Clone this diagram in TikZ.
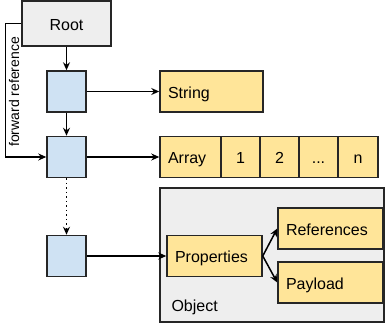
\documentclass[tikz,border=0pt]{standalone}
\usepackage{fontspec}
\setmainfont{Liberation Sans}
\usetikzlibrary{arrows.meta,positioning}
\definecolor{slotblue}{HTML}{CFE2F3}
\definecolor{itemyellow}{HTML}{FFE599}
\definecolor{panelgray}{HTML}{EEEEEE}

\begin{document}
\begin{tikzpicture}[x=1pt, y=-1pt,
    font=\fontsize{16}{19}\selectfont,
    box/.style={draw=black!85, line width=1.5pt, inner sep=0pt, text height=13.5pt, text depth=0.5pt},
    slot/.style={box, fill=slotblue, minimum width=39pt, minimum height=41pt},
    item/.style={box, fill=itemyellow, minimum height=41pt, text width=#1, align=left, inner xsep=8pt},
    cell/.style={box, fill=itemyellow, minimum width=39pt, minimum height=41pt},
    link/.style={-{Stealth[length=8pt,width=7pt]}, line width=1.5pt}
]
    \useasboundingbox (0,0) rectangle (386,327);

    % Root and the chain of slots
    \node[box, fill=panelgray, minimum width=89pt, minimum height=45pt] (root) at (66.5,23.5) {Root};
    \node[slot] (b1) at (66.5,91.5) {};
    \node[slot] (b2) at (66.5,157) {};
    \node[slot] (b3) at (66.5,256) {};

    % String
    \node[item=87pt] (string) at (211.5,91.5) {String};

    % Array with its elements
    \node[item=45pt] (array) at (190.5,157) {Array};
    \node[cell] (e1) at (240.5,157) {1};
    \node[cell] (e2) at (279.5,157) {2};
    \node[cell] (edots) at (318.5,157) {...};
    \node[cell, minimum width=40pt] (en) at (358,157) {n};

    % Object panel
    \node[box, fill=panelgray, minimum width=224pt, minimum height=134pt] (object) at (272,255) {};
    \node[anchor=base west] (objlabel) at (168,311) {Object};
    \node[item=79pt] (props) at (214.5,256) {Properties};
    \node[item=89pt] (refs) at (330.5,228.5) {References};
    \node[item=89pt] (payload) at (330.5,282.5) {Payload};

    % Arrows
    \draw[link] (root) -- (b1);
    \draw[link] (b1) -- (b2);
    \draw[link, dash pattern=on 1.5pt off 3pt] (b2) -- (b3);
    \draw[link] (b1) -- (string);
    \draw[link] (b2) -- (array);
    \draw[link] (b3) -- (props);
    \draw[link] (props.east) -- (refs.west);
    \draw[link] (props.east) -- (payload.west);

    % Forward reference
    \draw[link] (root.west) -- ++(-16,0) |- (b2.west);
    \node[rotate=90, font=\fontsize{14}{16}\selectfont] (fwdlabel) at (14,92) {forward reference};
\end{tikzpicture}
\end{document}
